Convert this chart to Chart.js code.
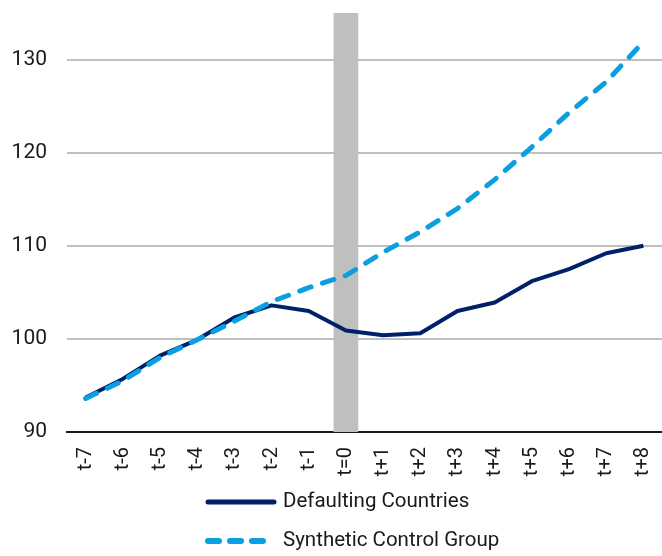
<!DOCTYPE html>
<html>
<head>
<meta charset="utf-8">
<script src="https://cdn.jsdelivr.net/npm/chart.js@4"></script>
<style>
  html, body { margin: 0; padding: 0; background: #ffffff; overflow: hidden; }
  #c { display: block; }
</style>
</head>
<body>
<canvas id="c" width="662" height="556"></canvas>
<script>
// ---- data ----
const categories = ['t-7','t-6','t-5','t-4','t-3','t-2','t-1','t=0','t+1','t+2','t+3','t+4','t+5','t+6','t+7','t+8'];
const defaultingCountries = [93.7, 95.7, 98.2, 99.9, 102.3, 103.6, 103.0, 100.9, 100.4, 100.6, 103.0, 103.9, 106.2, 107.5, 109.2, 110.0];
const syntheticControl    = [93.6, 95.5, 98.0, 99.9, 101.9, 104.0, 105.5, 106.8, 109.3, 111.5, 114.0, 117.1, 120.6, 124.3, 127.6, 131.9];
const defaultShade        = [null, null, null, null, null, null, null, 135, null, null, null, null, null, null, null, null];
const seriesNames = ['Defaulting Countries', 'Synthetic Control Group'];
const yMin = 90, yMax = 135, yStep = 10;

const FONT = "Roboto, 'Liberation Sans', sans-serif";
const NAVY = '#002169';
const BLUE = '#0a9fe0';
const GREY = '#bfbfbf';

const legendPlugin = {
  id: 'stackedLegend',
  afterDraw(chart) {
    const ctx = chart.ctx;
    ctx.save();
    const rows = [
      { y: 502, color: NAVY, dash: [], width: 5, text: seriesNames[0] },
      { y: 541, color: BLUE, dash: [11, 11], width: 6, text: seriesNames[1] }
    ];
    rows.forEach(r => {
      ctx.beginPath();
      ctx.strokeStyle = r.color;
      ctx.lineWidth = r.width;
      ctx.lineCap = 'round';
      ctx.setLineDash(r.dash);
      ctx.moveTo(208, r.y);
      ctx.lineTo(274, r.y);
      ctx.stroke();
      ctx.setLineDash([]);
      ctx.fillStyle = '#1a1a1a';
      ctx.font = '20.5px ' + FONT;
      ctx.textAlign = 'left';
      ctx.textBaseline = 'middle';
      ctx.fillText(r.text, 283, r.y);
    });
    ctx.restore();
  }
};

function zeroPadding(scale) {
  scale.paddingTop = 0;
  scale.paddingBottom = 0;
  scale.paddingLeft = 0;
  scale.paddingRight = 0;
}

new Chart(document.getElementById('c'), {
  data: {
    labels: categories,
    datasets: [
      {
        type: 'line',
        label: seriesNames[1],
        data: syntheticControl,
        borderColor: BLUE,
        borderWidth: 5,
        borderDash: [12, 12],
        borderCapStyle: 'round',
        pointRadius: 0,
        tension: 0,
        fill: false,
        order: 1
      },
      {
        type: 'line',
        label: seriesNames[0],
        data: defaultingCountries,
        borderColor: NAVY,
        borderWidth: 4,
        borderJoinStyle: 'round',
        pointRadius: 0,
        tension: 0,
        fill: false,
        order: 2
      },
      {
        type: 'bar',
        label: 'default',
        data: defaultShade,
        backgroundColor: GREY,
        borderWidth: 0,
        barThickness: 24,
        order: 3
      }
    ]
  },
  options: {
    responsive: false,
    devicePixelRatio: 1,
    animation: false,
    layout: { padding: { top: 13, left: 0, right: -3, bottom: 0 } },
    plugins: {
      legend: { display: false },
      tooltip: { enabled: false }
    },
    scales: {
      x: {
        type: 'category',
        offset: true,
        grid: { display: false, drawTicks: false },
        border: { display: true, color: '#1a1a1a', width: 2 },
        ticks: {
          color: '#1a1a1a',
          font: { family: FONT, size: 20 },
          minRotation: 90,
          maxRotation: 90,
          padding: 15,
          autoSkip: false
        },
        afterFit(scale) { scale.height = 556 - 13 - 419; zeroPadding(scale); }
      },
      y: {
        type: 'linear',
        min: yMin,
        max: yMax,
        grid: {
          color: ctx => (ctx.tick && ctx.tick.value === yMin) ? 'rgba(0,0,0,0)' : GREY,
          lineWidth: 2,
          drawTicks: false
        },
        border: { display: false },
        ticks: {
          stepSize: yStep,
          includeBounds: false,
          color: '#1a1a1a',
          font: { family: FONT, size: 21 },
          padding: 20
        },
        afterFit(scale) { scale.width = 67; zeroPadding(scale); }
      }
    }
  },
  plugins: [legendPlugin]
});
</script>
</body>
</html>
